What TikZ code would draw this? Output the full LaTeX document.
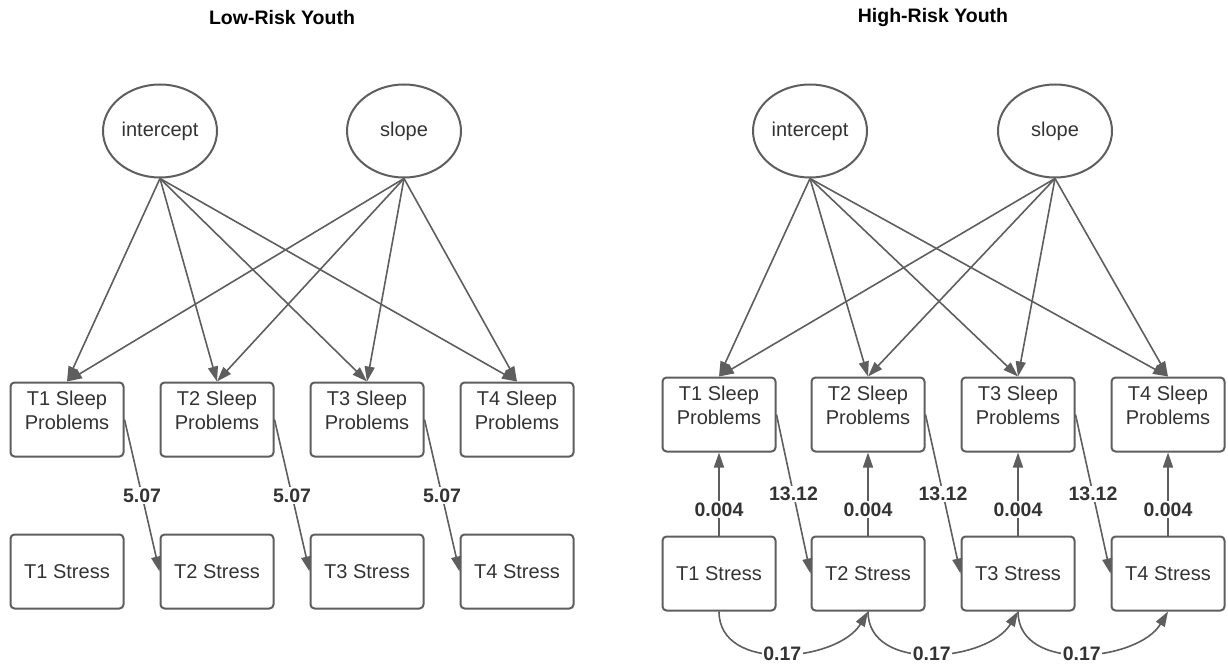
\documentclass[tikz,border=0pt]{standalone}
\usepackage{fontspec}
\setmainfont{Liberation Sans}
\usetikzlibrary{shapes.geometric,arrows.meta}
\definecolor{edge}{HTML}{5E5E5E}
\definecolor{ink}{HTML}{333333}

\begin{document}
\begin{tikzpicture}[x=1pt,y=-1pt,
  every node/.style={font=\fontsize{20}{24}\selectfont, text=ink},
  latent/.style={ellipse, draw=edge, line width=2pt, minimum width=114pt,
    minimum height=93pt, inner sep=0pt},
  obs/.style={rectangle, rounded corners=4pt, draw=edge, line width=2pt,
    minimum width=113pt, minimum height=74pt, inner sep=0pt, align=center},
  arr/.style={draw=edge, line width=1.6pt, -{Triangle[length=15pt,width=10pt]}},
  lab/.style={font=\bfseries\fontsize{19.5}{24}\selectfont, fill=white, inner sep=1.5pt},
  paneltitle/.style={font=\bfseries\fontsize{19.5}{24}\selectfont, text=black}]

\useasboundingbox (0,0) rectangle (1228,668);

% ---------- Low-risk group ----------
\node[paneltitle] (Ltitle) at (282,18) {Low-Risk Youth};
\node[latent] (Lint) at (160,131) {intercept};
\node[latent] (Lslo) at (404,131) {slope};
\foreach \i/\x in {1/67,2/217,3/367,4/517}{
  \node[obs] (Ls\i) at (\x,419.5) {T\i{} Sleep\\Problems\\[-13pt]\strut};
  \node[obs] (Lt\i) at (\x,571.5) {T\i{} Stress};
}
\foreach \i in {1,...,4}{
  \draw[arr] (Lint.south) -- (Ls\i.north);
  \draw[arr] (Lslo.south) -- (Ls\i.north);
}
\foreach \i/\j in {1/2,2/3,3/4}{
  \draw[arr] (Ls\i.east) -- node[lab]{5.07} (Lt\j.west);
}

% ---------- High-risk group ----------
\node[paneltitle] (Rtitle) at (933,18) {High-Risk Youth};
\node[latent] (Rint) at (810,131) {intercept};
\node[latent] (Rslo) at (1055,131) {slope};
\foreach \i/\x in {1/719,2/868,3/1018,4/1168}{
  \node[obs] (Rs\i) at (\x,414.5) {T\i{} Sleep\\Problems\\[-13pt]\strut};
  \node[obs] (Rt\i) at (\x,573.5) {T\i{} Stress};
}
\foreach \i in {1,...,4}{
  \draw[arr] (Rint.south) -- (Rs\i.north);
  \draw[arr] (Rslo.south) -- (Rs\i.north);
  \draw[arr] (Rt\i.north) -- node[lab,pos=0.31]{0.004} (Rs\i.south);
}
\foreach \i/\j in {1/2,2/3,3/4}{
  \draw[arr] (Rs\i.east) -- node[lab]{13.12} (Rt\j.west);
  \draw[arr] (Rt\i.south) .. controls +(0,62) and +(-30,50) ..
    node[lab,pos=0.5]{0.17} (Rt\j.south);
}
\end{tikzpicture}
\end{document}
